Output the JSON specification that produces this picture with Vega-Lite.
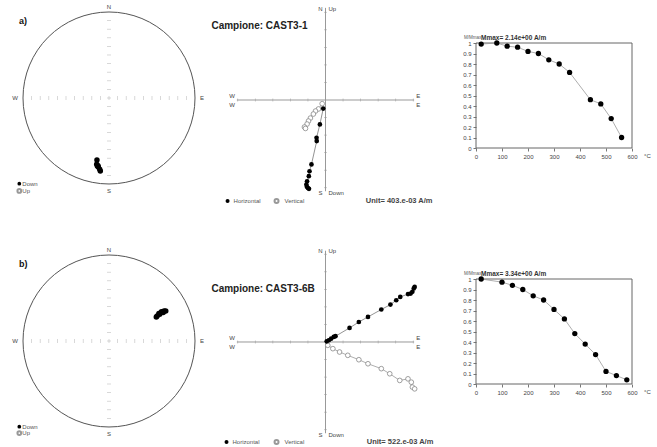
{
"$schema":"https://vega.github.io/schema/vega-lite/v6.json",
"background":"white",
"padding":{"left":12,"top":3,"right":0,"bottom":0},
"spacing":36,
"config":{"view":{"stroke":null},"font":"Liberation Sans","text":{"font":"Liberation Sans"}},
"datasets":{
"st":[{"v":-0.9},{"v":-0.8},{"v":-0.7},{"v":-0.6},{"v":-0.5},{"v":-0.4},{"v":-0.3},{"v":-0.2},{"v":-0.1},{"v":0},{"v":0.1},{"v":0.2},{"v":0.3},{"v":0.4},{"v":0.5},{"v":0.6},{"v":0.7},{"v":0.8},{"v":0.9}],
"zt":[{"v":-5},{"v":-4},{"v":-3},{"v":-2},{"v":-1},{"v":1},{"v":2},{"v":3},{"v":4},{"v":5}],
"sA":[{"x":-0.14,"y":-0.721},{"x":-0.143,"y":-0.771},{"x":-0.128,"y":-0.787},{"x":-0.135,"y":-0.79},{"x":-0.124,"y":-0.802},{"x":-0.108,"y":-0.829},{"x":-0.101,"y":-0.849}],
"sB":[{"x":0.55,"y":0.28},{"x":0.56,"y":0.29},{"x":0.58,"y":0.32},{"x":0.59,"y":0.31},{"x":0.61,"y":0.34},{"x":0.63,"y":0.33},{"x":0.64,"y":0.35},{"x":0.66,"y":0.35}],
"zA":[
{"c":"H","i":1,"x":-0.13,"y":-0.49},{"c":"H","i":2,"x":-0.32,"y":-1.39},{"c":"H","i":3,"x":-0.51,"y":-2.15},{"c":"H","i":4,"x":-0.5,"y":-2.34},{"c":"H","i":5,"x":-0.8,"y":-3.67},{"c":"H","i":6,"x":-0.91,"y":-4.06},{"c":"H","i":7,"x":-0.95,"y":-4.34},{"c":"H","i":8,"x":-1.05,"y":-4.63},{"c":"H","i":9,"x":-1.09,"y":-4.82},{"c":"H","i":10,"x":-1.06,"y":-4.95},{"c":"H","i":11,"x":-1.0,"y":-5.02},{"c":"H","i":12,"x":-0.94,"y":-5.06},
{"c":"V","i":1,"x":-0.19,"y":-0.21},{"c":"V","i":2,"x":-0.4,"y":-0.51},{"c":"V","i":3,"x":-0.57,"y":-0.63},{"c":"V","i":4,"x":-0.69,"y":-0.8},{"c":"V","i":5,"x":-0.86,"y":-1.03},{"c":"V","i":6,"x":-0.97,"y":-1.2},{"c":"V","i":7,"x":-1.05,"y":-1.37},{"c":"V","i":8,"x":-1.2,"y":-1.54},{"c":"V","i":9,"x":-1.14,"y":-1.62}],
"zB":[
{"c":"H","i":1,"x":0.07,"y":0.04},{"c":"H","i":2,"x":0.19,"y":0.1},{"c":"H","i":3,"x":0.32,"y":0.19},{"c":"H","i":4,"x":0.47,"y":0.29},{"c":"H","i":5,"x":0.57,"y":0.33},{"c":"H","i":6,"x":1.37,"y":0.8},{"c":"H","i":7,"x":1.9,"y":1.14},{"c":"H","i":8,"x":2.42,"y":1.43},{"c":"H","i":9,"x":3.18,"y":1.85},{"c":"H","i":10,"x":3.7,"y":2.13},{"c":"H","i":11,"x":4.03,"y":2.38},{"c":"H","i":12,"x":4.26,"y":2.57},{"c":"H","i":13,"x":4.7,"y":2.73},{"c":"H","i":14,"x":4.85,"y":2.76},{"c":"H","i":15,"x":4.95,"y":2.86},{"c":"H","i":16,"x":5.03,"y":3.05},{"c":"H","i":17,"x":5.08,"y":3.14},
{"c":"V","i":1,"x":0.13,"y":-0.19},{"c":"V","i":2,"x":0.42,"y":-0.38},{"c":"V","i":3,"x":0.8,"y":-0.57},{"c":"V","i":4,"x":1.27,"y":-0.76},{"c":"V","i":5,"x":1.9,"y":-1.01},{"c":"V","i":6,"x":2.42,"y":-1.24},{"c":"V","i":7,"x":3.18,"y":-1.52},{"c":"V","i":8,"x":3.66,"y":-1.81},{"c":"V","i":9,"x":4.23,"y":-2.19},{"c":"V","i":10,"x":4.7,"y":-2.1},{"c":"V","i":11,"x":4.89,"y":-2.29},{"c":"V","i":12,"x":4.95,"y":-2.57},{"c":"V","i":13,"x":5.08,"y":-2.67}],
"dA":[{"t":20,"m":0.99},{"t":80,"m":1.0},{"t":120,"m":0.97},{"t":160,"m":0.96},{"t":200,"m":0.92},{"t":240,"m":0.9},{"t":280,"m":0.84},{"t":320,"m":0.8},{"t":360,"m":0.72},{"t":440,"m":0.46},{"t":480,"m":0.42},{"t":520,"m":0.28},{"t":560,"m":0.1}],
"dB":[{"t":20,"m":1.0},{"t":100,"m":0.97},{"t":140,"m":0.94},{"t":180,"m":0.9},{"t":220,"m":0.84},{"t":260,"m":0.8},{"t":300,"m":0.71},{"t":340,"m":0.62},{"t":380,"m":0.48},{"t":420,"m":0.38},{"t":460,"m":0.28},{"t":500,"m":0.12},{"t":540,"m":0.08},{"t":580,"m":0.04}]
},
"vconcat":[
{"hconcat":[
{"width":176,"height":179,"layer":[
{"data":{"values":[{}]},"mark":{"type":"point","filled":false,"size":29584,"stroke":"#555","strokeWidth":1,"opacity":1},"encoding":{"x":{"datum":0,"type":"quantitative","scale":{"domain":[-1.0233,1.0233],"nice":false,"zero":false},"axis":null},"y":{"datum":0,"type":"quantitative","scale":{"domain":[-1.0233,1.058],"nice":false,"zero":false},"axis":null}}},
{"data":{"name":"st"},"mark":{"type":"tick","orient":"vertical","size":4,"thickness":0.7,"color":"#b0b0b0"},"encoding":{"x":{"field":"v","type":"quantitative","axis":null},"y":{"datum":0,"type":"quantitative","axis":null}}},
{"data":{"name":"st"},"mark":{"type":"tick","orient":"horizontal","size":4,"thickness":0.7,"color":"#b0b0b0"},"encoding":{"x":{"datum":0,"type":"quantitative","axis":null},"y":{"field":"v","type":"quantitative","axis":null}}},
{"data":{"name":"sA"},"mark":{"type":"point","filled":true,"size":30,"color":"#000","opacity":1},"encoding":{"x":{"field":"x","type":"quantitative","axis":null},"y":{"field":"y","type":"quantitative","axis":null}}},
{"data":{"values":[{}]},"mark":{"type":"text","text":"N","fontSize":6,"color":"#444","dy":-5},"encoding":{"x":{"datum":0,"type":"quantitative","axis":null},"y":{"datum":1,"type":"quantitative","axis":null}}},
{"data":{"values":[{}]},"mark":{"type":"text","text":"S","fontSize":6,"color":"#444","dy":7},"encoding":{"x":{"datum":0,"type":"quantitative","axis":null},"y":{"datum":-1,"type":"quantitative","axis":null}}},
{"data":{"values":[{}]},"mark":{"type":"text","text":"W","fontSize":6,"color":"#444","dx":-8},"encoding":{"x":{"datum":-1,"type":"quantitative","axis":null},"y":{"datum":0,"type":"quantitative","axis":null}}},
{"data":{"values":[{}]},"mark":{"type":"text","text":"E","fontSize":6,"color":"#444","dx":7},"encoding":{"x":{"datum":1,"type":"quantitative","axis":null},"y":{"datum":0,"type":"quantitative","axis":null}}},
{"data":{"values":[{}]},"mark":{"type":"text","text":"a)","fontSize":9,"fontWeight":"bold","color":"#111","align":"left"},"encoding":{"x":{"datum":-1.047,"type":"quantitative","axis":null},"y":{"datum":0.895,"type":"quantitative","axis":null}}},
{"data":{"values":[{}]},"mark":{"type":"point","filled":true,"size":14,"color":"#000","opacity":1},"encoding":{"x":{"datum":-1.043,"type":"quantitative","axis":null},"y":{"datum":-0.997,"type":"quantitative","axis":null}}},
{"data":{"values":[{}]},"mark":{"type":"point","filled":false,"size":14,"color":"#999","opacity":1},"encoding":{"x":{"datum":-1.043,"type":"quantitative","axis":null},"y":{"datum":-1.08,"type":"quantitative","axis":null}}},
{"data":{"values":[{}]},"mark":{"type":"text","text":"Down","fontSize":6,"color":"#555","align":"left","dx":3},"encoding":{"x":{"datum":-1.043,"type":"quantitative","axis":null},"y":{"datum":-0.997,"type":"quantitative","axis":null}}},
{"data":{"values":[{}]},"mark":{"type":"text","text":"Up","fontSize":6,"color":"#555","align":"left","dx":3},"encoding":{"x":{"datum":-1.043,"type":"quantitative","axis":null},"y":{"datum":-1.08,"type":"quantitative","axis":null}}}
]},
{"width":205.5,"height":186,"layer":[
{"data":{"values":[{}]},"mark":{"type":"rule","color":"#999","strokeWidth":1},"encoding":{"x":{"datum":-5.05,"type":"quantitative","scale":{"domain":[-5.242,6.467],"nice":false,"zero":false},"axis":null},"x2":{"datum":5.05},"y":{"datum":0,"type":"quantitative","scale":{"domain":[-5.3,5.3],"nice":false,"zero":false},"axis":null}}},
{"data":{"values":[{}]},"mark":{"type":"rule","color":"#999","strokeWidth":1},"encoding":{"x":{"datum":0,"type":"quantitative","axis":null},"y":{"datum":-5.2,"type":"quantitative","axis":null},"y2":{"datum":5.25}}},
{"data":{"name":"zt"},"mark":{"type":"tick","orient":"vertical","size":3,"thickness":0.7,"color":"#999"},"encoding":{"x":{"field":"v","type":"quantitative","axis":null},"y":{"datum":0,"type":"quantitative","axis":null}}},
{"data":{"name":"zt"},"mark":{"type":"tick","orient":"horizontal","size":3,"thickness":0.7,"color":"#999"},"encoding":{"x":{"datum":0,"type":"quantitative","axis":null},"y":{"field":"v","type":"quantitative","axis":null}}},
{"data":{"name":"zA"},"transform":[{"filter":"datum.c==='H'"}],"mark":{"type":"line","color":"#777","strokeWidth":0.8},"encoding":{"x":{"field":"x","type":"quantitative","axis":null},"y":{"field":"y","type":"quantitative","axis":null},"order":{"field":"i","type":"quantitative"}}},
{"data":{"name":"zA"},"transform":[{"filter":"datum.c==='V'"}],"mark":{"type":"line","color":"#999","strokeWidth":0.8},"encoding":{"x":{"field":"x","type":"quantitative","axis":null},"y":{"field":"y","type":"quantitative","axis":null},"order":{"field":"i","type":"quantitative"}}},
{"data":{"name":"zA"},"transform":[{"filter":"datum.c==='V'"}],"mark":{"type":"point","filled":true,"fill":"white","stroke":"#888","strokeWidth":0.8,"size":22,"opacity":1},"encoding":{"x":{"field":"x","type":"quantitative","axis":null},"y":{"field":"y","type":"quantitative","axis":null}}},
{"data":{"name":"zA"},"transform":[{"filter":"datum.c==='H'"}],"mark":{"type":"point","filled":true,"color":"#000","size":22,"opacity":1},"encoding":{"x":{"field":"x","type":"quantitative","axis":null},"y":{"field":"y","type":"quantitative","axis":null}}},
{"data":{"values":[{}]},"mark":{"type":"text","text":"Campione: CAST3-1","fontSize":10,"fontWeight":"bold","color":"#222","align":"left"},"encoding":{"x":{"datum":-6.5,"type":"quantitative","axis":null},"y":{"datum":4.22,"type":"quantitative","axis":null}}},
{"data":{"values":[{}]},"mark":{"type":"text","text":"N","fontSize":6,"color":"#444","align":"right","dx":-3},"encoding":{"x":{"datum":0,"type":"quantitative","axis":null},"y":{"datum":5.2,"type":"quantitative","axis":null}}},
{"data":{"values":[{}]},"mark":{"type":"text","text":"Up","fontSize":6,"color":"#444","align":"left","dx":3},"encoding":{"x":{"datum":0,"type":"quantitative","axis":null},"y":{"datum":5.2,"type":"quantitative","axis":null}}},
{"data":{"values":[{}]},"mark":{"type":"text","text":"S","fontSize":6,"color":"#444","align":"right","dx":-3,"dy":2},"encoding":{"x":{"datum":0,"type":"quantitative","axis":null},"y":{"datum":-5.2,"type":"quantitative","axis":null}}},
{"data":{"values":[{}]},"mark":{"type":"text","text":"Down","fontSize":6,"color":"#444","align":"left","dx":3,"dy":2},"encoding":{"x":{"datum":0,"type":"quantitative","axis":null},"y":{"datum":-5.2,"type":"quantitative","axis":null}}},
{"data":{"values":[{}]},"mark":{"type":"text","text":"W","fontSize":6,"color":"#444","align":"right","dx":-2,"dy":-4},"encoding":{"x":{"datum":-5.05,"type":"quantitative","axis":null},"y":{"datum":0,"type":"quantitative","axis":null}}},
{"data":{"values":[{}]},"mark":{"type":"text","text":"W","fontSize":6,"color":"#444","align":"right","dx":-2,"dy":5},"encoding":{"x":{"datum":-5.05,"type":"quantitative","axis":null},"y":{"datum":0,"type":"quantitative","axis":null}}},
{"data":{"values":[{}]},"mark":{"type":"text","text":"E","fontSize":6,"color":"#444","align":"left","dx":2,"dy":-4},"encoding":{"x":{"datum":5.05,"type":"quantitative","axis":null},"y":{"datum":0,"type":"quantitative","axis":null}}},
{"data":{"values":[{}]},"mark":{"type":"text","text":"E","fontSize":6,"color":"#444","align":"left","dx":2,"dy":5},"encoding":{"x":{"datum":5.05,"type":"quantitative","axis":null},"y":{"datum":0,"type":"quantitative","axis":null}}},
{"data":{"values":[{}]},"mark":{"type":"point","filled":true,"color":"#000","size":16,"opacity":1},"encoding":{"x":{"datum":-5.58,"type":"quantitative","axis":null},"y":{"datum":-5.75,"type":"quantitative","axis":null}}},
{"data":{"values":[{}]},"mark":{"type":"text","text":"Horizontal","fontSize":6,"color":"#555","align":"left","dx":6},"encoding":{"x":{"datum":-5.58,"type":"quantitative","axis":null},"y":{"datum":-5.75,"type":"quantitative","axis":null}}},
{"data":{"values":[{}]},"mark":{"type":"point","filled":false,"color":"#999","size":16,"opacity":1},"encoding":{"x":{"datum":-2.79,"type":"quantitative","axis":null},"y":{"datum":-5.75,"type":"quantitative","axis":null}}},
{"data":{"values":[{}]},"mark":{"type":"text","text":"Vertical","fontSize":6,"color":"#555","align":"left","dx":8},"encoding":{"x":{"datum":-2.79,"type":"quantitative","axis":null},"y":{"datum":-5.75,"type":"quantitative","axis":null}}},
{"data":{"values":[{}]},"mark":{"type":"text","text":"Unit=  403.e-03  A/m","fontSize":7.5,"fontWeight":"bold","color":"#444","align":"left"},"encoding":{"x":{"datum":2.3,"type":"quantitative","axis":null},"y":{"datum":-5.75,"type":"quantitative","axis":null}}}
]},
{"width":156,"height":141,
"encoding":{"x":{"field":"t","type":"quantitative","scale":{"domain":[0,600],"nice":false,"zero":false},"axis":{"values":[0,100,200,300,400,500,600],"title":null,"domain":false,"grid":false,"labelFontSize":6,"labelColor":"#444","tickSize":3,"tickColor":"#777","labelPadding":2,"labelFlush":false,"labelOverlap":false}},"y":{"field":"m","type":"quantitative","scale":{"domain":[0,1.343],"nice":false,"zero":false},"axis":{"values":[0,0.1,0.2,0.3,0.4,0.5,0.6,0.7,0.8,0.9,1],"format":"~g","title":null,"domain":false,"grid":false,"labelFontSize":6,"labelColor":"#444","tickSize":3,"tickColor":"#777","labelPadding":2,"labelFlush":false,"labelOverlap":false}}},
"layer":[
{"data":{"values":[{"t":0,"t2":600,"m":0,"m2":1}]},"mark":{"type":"rect","filled":false,"stroke":"#666","strokeWidth":1},"encoding":{"x2":{"field":"t2"},"y2":{"field":"m2"}}},
{"data":{"name":"dA"},"mark":{"type":"line","color":"#999","strokeWidth":0.8}},
{"data":{"name":"dA"},"mark":{"type":"point","filled":true,"color":"#000","size":28,"opacity":1}},
{"data":{"values":[{"t":0,"m":1}]},"mark":{"type":"text","text":"M/Mmax","fontSize":4.5,"color":"#555","align":"left","dx":-12,"dy":-5}},
{"data":{"values":[{"t":0,"m":1}]},"mark":{"type":"text","text":"Mmax= 2.14e+00  A/m","fontSize":6.5,"fontWeight":"bold","color":"#333","align":"left","dx":5,"dy":-5}},
{"data":{"values":[{"t":600,"m":0}]},"mark":{"type":"text","text":"°C","fontSize":6,"color":"#444","align":"left","dx":12,"dy":8}}
]}
],"spacing":36.5,"bounds":"flush"},
{"hconcat":[
{"width":176,"height":186,"layer":[
{"data":{"values":[{}]},"mark":{"type":"point","filled":false,"size":29584,"stroke":"#555","strokeWidth":1,"opacity":1},"encoding":{"x":{"datum":0,"type":"quantitative","scale":{"domain":[-1.0233,1.0233],"nice":false,"zero":false},"axis":null},"y":{"datum":0,"type":"quantitative","scale":{"domain":[-1.0233,1.1395],"nice":false,"zero":false},"axis":null}}},
{"data":{"name":"st"},"mark":{"type":"tick","orient":"vertical","size":4,"thickness":0.7,"color":"#b0b0b0"},"encoding":{"x":{"field":"v","type":"quantitative","axis":null},"y":{"datum":0,"type":"quantitative","axis":null}}},
{"data":{"name":"st"},"mark":{"type":"tick","orient":"horizontal","size":4,"thickness":0.7,"color":"#b0b0b0"},"encoding":{"x":{"datum":0,"type":"quantitative","axis":null},"y":{"field":"v","type":"quantitative","axis":null}}},
{"data":{"name":"sB"},"mark":{"type":"point","filled":true,"size":30,"color":"#000","opacity":1},"encoding":{"x":{"field":"x","type":"quantitative","axis":null},"y":{"field":"y","type":"quantitative","axis":null}}},
{"data":{"values":[{}]},"mark":{"type":"text","text":"N","fontSize":6,"color":"#444","dy":-5},"encoding":{"x":{"datum":0,"type":"quantitative","axis":null},"y":{"datum":1,"type":"quantitative","axis":null}}},
{"data":{"values":[{}]},"mark":{"type":"text","text":"S","fontSize":6,"color":"#444","dy":7},"encoding":{"x":{"datum":0,"type":"quantitative","axis":null},"y":{"datum":-1,"type":"quantitative","axis":null}}},
{"data":{"values":[{}]},"mark":{"type":"text","text":"W","fontSize":6,"color":"#444","dx":-8},"encoding":{"x":{"datum":-1,"type":"quantitative","axis":null},"y":{"datum":0,"type":"quantitative","axis":null}}},
{"data":{"values":[{}]},"mark":{"type":"text","text":"E","fontSize":6,"color":"#444","dx":7},"encoding":{"x":{"datum":1,"type":"quantitative","axis":null},"y":{"datum":0,"type":"quantitative","axis":null}}},
{"data":{"values":[{}]},"mark":{"type":"text","text":"b)","fontSize":9,"fontWeight":"bold","color":"#111","align":"left"},"encoding":{"x":{"datum":-1.047,"type":"quantitative","axis":null},"y":{"datum":0.9,"type":"quantitative","axis":null}}},
{"data":{"values":[{}]},"mark":{"type":"point","filled":true,"size":14,"color":"#000","opacity":1},"encoding":{"x":{"datum":-1.043,"type":"quantitative","axis":null},"y":{"datum":-0.997,"type":"quantitative","axis":null}}},
{"data":{"values":[{}]},"mark":{"type":"point","filled":false,"size":14,"color":"#999","opacity":1},"encoding":{"x":{"datum":-1.043,"type":"quantitative","axis":null},"y":{"datum":-1.07,"type":"quantitative","axis":null}}},
{"data":{"values":[{}]},"mark":{"type":"text","text":"Down","fontSize":6,"color":"#555","align":"left","dx":3},"encoding":{"x":{"datum":-1.043,"type":"quantitative","axis":null},"y":{"datum":-0.997,"type":"quantitative","axis":null}}},
{"data":{"values":[{}]},"mark":{"type":"text","text":"Up","fontSize":6,"color":"#555","align":"left","dx":3},"encoding":{"x":{"datum":-1.043,"type":"quantitative","axis":null},"y":{"datum":-1.07,"type":"quantitative","axis":null}}}
]},
{"width":205.5,"height":192,"layer":[
{"data":{"values":[{}]},"mark":{"type":"rule","color":"#999","strokeWidth":1},"encoding":{"x":{"datum":-5.05,"type":"quantitative","scale":{"domain":[-5.242,6.467],"nice":false,"zero":false},"axis":null},"x2":{"datum":5.05},"y":{"datum":0,"type":"quantitative","scale":{"domain":[-5.3,5.641],"nice":false,"zero":false},"axis":null}}},
{"data":{"values":[{}]},"mark":{"type":"rule","color":"#999","strokeWidth":1},"encoding":{"x":{"datum":0,"type":"quantitative","axis":null},"y":{"datum":-5.2,"type":"quantitative","axis":null},"y2":{"datum":5.2}}},
{"data":{"name":"zt"},"mark":{"type":"tick","orient":"vertical","size":3,"thickness":0.7,"color":"#999"},"encoding":{"x":{"field":"v","type":"quantitative","axis":null},"y":{"datum":0,"type":"quantitative","axis":null}}},
{"data":{"name":"zt"},"mark":{"type":"tick","orient":"horizontal","size":3,"thickness":0.7,"color":"#999"},"encoding":{"x":{"datum":0,"type":"quantitative","axis":null},"y":{"field":"v","type":"quantitative","axis":null}}},
{"data":{"name":"zB"},"transform":[{"filter":"datum.c==='H'"}],"mark":{"type":"line","color":"#777","strokeWidth":0.8},"encoding":{"x":{"field":"x","type":"quantitative","axis":null},"y":{"field":"y","type":"quantitative","axis":null},"order":{"field":"i","type":"quantitative"}}},
{"data":{"name":"zB"},"transform":[{"filter":"datum.c==='V'"}],"mark":{"type":"line","color":"#999","strokeWidth":0.8},"encoding":{"x":{"field":"x","type":"quantitative","axis":null},"y":{"field":"y","type":"quantitative","axis":null},"order":{"field":"i","type":"quantitative"}}},
{"data":{"name":"zB"},"transform":[{"filter":"datum.c==='V'"}],"mark":{"type":"point","filled":true,"fill":"white","stroke":"#888","strokeWidth":0.8,"size":22,"opacity":1},"encoding":{"x":{"field":"x","type":"quantitative","axis":null},"y":{"field":"y","type":"quantitative","axis":null}}},
{"data":{"name":"zB"},"transform":[{"filter":"datum.c==='H'"}],"mark":{"type":"point","filled":true,"color":"#000","size":22,"opacity":1},"encoding":{"x":{"field":"x","type":"quantitative","axis":null},"y":{"field":"y","type":"quantitative","axis":null}}},
{"data":{"values":[{}]},"mark":{"type":"text","text":"Campione: CAST3-6B","fontSize":10,"fontWeight":"bold","color":"#222","align":"left"},"encoding":{"x":{"datum":-6.5,"type":"quantitative","axis":null},"y":{"datum":3.02,"type":"quantitative","axis":null}}},
{"data":{"values":[{}]},"mark":{"type":"text","text":"N","fontSize":6,"color":"#444","align":"right","dx":-3},"encoding":{"x":{"datum":0,"type":"quantitative","axis":null},"y":{"datum":5.2,"type":"quantitative","axis":null}}},
{"data":{"values":[{}]},"mark":{"type":"text","text":"Up","fontSize":6,"color":"#444","align":"left","dx":3},"encoding":{"x":{"datum":0,"type":"quantitative","axis":null},"y":{"datum":5.2,"type":"quantitative","axis":null}}},
{"data":{"values":[{}]},"mark":{"type":"text","text":"S","fontSize":6,"color":"#444","align":"right","dx":-3,"dy":2},"encoding":{"x":{"datum":0,"type":"quantitative","axis":null},"y":{"datum":-5.2,"type":"quantitative","axis":null}}},
{"data":{"values":[{}]},"mark":{"type":"text","text":"Down","fontSize":6,"color":"#444","align":"left","dx":3,"dy":2},"encoding":{"x":{"datum":0,"type":"quantitative","axis":null},"y":{"datum":-5.2,"type":"quantitative","axis":null}}},
{"data":{"values":[{}]},"mark":{"type":"text","text":"W","fontSize":6,"color":"#444","align":"right","dx":-2,"dy":-4},"encoding":{"x":{"datum":-5.05,"type":"quantitative","axis":null},"y":{"datum":0,"type":"quantitative","axis":null}}},
{"data":{"values":[{}]},"mark":{"type":"text","text":"W","fontSize":6,"color":"#444","align":"right","dx":-2,"dy":5},"encoding":{"x":{"datum":-5.05,"type":"quantitative","axis":null},"y":{"datum":0,"type":"quantitative","axis":null}}},
{"data":{"values":[{}]},"mark":{"type":"text","text":"E","fontSize":6,"color":"#444","align":"left","dx":2,"dy":-4},"encoding":{"x":{"datum":5.05,"type":"quantitative","axis":null},"y":{"datum":0,"type":"quantitative","axis":null}}},
{"data":{"values":[{}]},"mark":{"type":"text","text":"E","fontSize":6,"color":"#444","align":"left","dx":2,"dy":5},"encoding":{"x":{"datum":5.05,"type":"quantitative","axis":null},"y":{"datum":0,"type":"quantitative","axis":null}}},
{"data":{"values":[{}]},"mark":{"type":"point","filled":true,"color":"#000","size":16,"opacity":1},"encoding":{"x":{"datum":-5.64,"type":"quantitative","axis":null},"y":{"datum":-5.7,"type":"quantitative","axis":null}}},
{"data":{"values":[{}]},"mark":{"type":"text","text":"Horizontal","fontSize":6,"color":"#555","align":"left","dx":6},"encoding":{"x":{"datum":-5.64,"type":"quantitative","axis":null},"y":{"datum":-5.7,"type":"quantitative","axis":null}}},
{"data":{"values":[{}]},"mark":{"type":"point","filled":false,"color":"#999","size":16,"opacity":1},"encoding":{"x":{"datum":-2.79,"type":"quantitative","axis":null},"y":{"datum":-5.7,"type":"quantitative","axis":null}}},
{"data":{"values":[{}]},"mark":{"type":"text","text":"Vertical","fontSize":6,"color":"#555","align":"left","dx":8},"encoding":{"x":{"datum":-2.79,"type":"quantitative","axis":null},"y":{"datum":-5.7,"type":"quantitative","axis":null}}},
{"data":{"values":[{}]},"mark":{"type":"text","text":"Unit=  522.e-03  A/m","fontSize":7.5,"fontWeight":"bold","color":"#444","align":"left"},"encoding":{"x":{"datum":2.35,"type":"quantitative","axis":null},"y":{"datum":-5.7,"type":"quantitative","axis":null}}}
]},
{"width":156,"height":141,
"encoding":{"x":{"field":"t","type":"quantitative","scale":{"domain":[0,600],"nice":false,"zero":false},"axis":{"values":[0,100,200,300,400,500,600],"title":null,"domain":false,"grid":false,"labelFontSize":6,"labelColor":"#444","tickSize":3,"tickColor":"#777","labelPadding":2,"labelFlush":false,"labelOverlap":false}},"y":{"field":"m","type":"quantitative","scale":{"domain":[0,1.343],"nice":false,"zero":false},"axis":{"values":[0,0.1,0.2,0.3,0.4,0.5,0.6,0.7,0.8,0.9,1],"format":"~g","title":null,"domain":false,"grid":false,"labelFontSize":6,"labelColor":"#444","tickSize":3,"tickColor":"#777","labelPadding":2,"labelFlush":false,"labelOverlap":false}}},
"layer":[
{"data":{"values":[{"t":0,"t2":600,"m":0,"m2":1}]},"mark":{"type":"rect","filled":false,"stroke":"#666","strokeWidth":1},"encoding":{"x2":{"field":"t2"},"y2":{"field":"m2"}}},
{"data":{"name":"dB"},"mark":{"type":"line","color":"#999","strokeWidth":0.8}},
{"data":{"name":"dB"},"mark":{"type":"point","filled":true,"color":"#000","size":28,"opacity":1}},
{"data":{"values":[{"t":0,"m":1}]},"mark":{"type":"text","text":"M/Mmax","fontSize":4.5,"color":"#555","align":"left","dx":-12,"dy":-5}},
{"data":{"values":[{"t":0,"m":1}]},"mark":{"type":"text","text":"Mmax= 3.34e+00  A/m","fontSize":6.5,"fontWeight":"bold","color":"#333","align":"left","dx":5,"dy":-5}},
{"data":{"values":[{"t":600,"m":0}]},"mark":{"type":"text","text":"°C","fontSize":6,"color":"#444","align":"left","dx":12,"dy":8}}
]}
],"spacing":36.5,"bounds":"flush"}
]
}
